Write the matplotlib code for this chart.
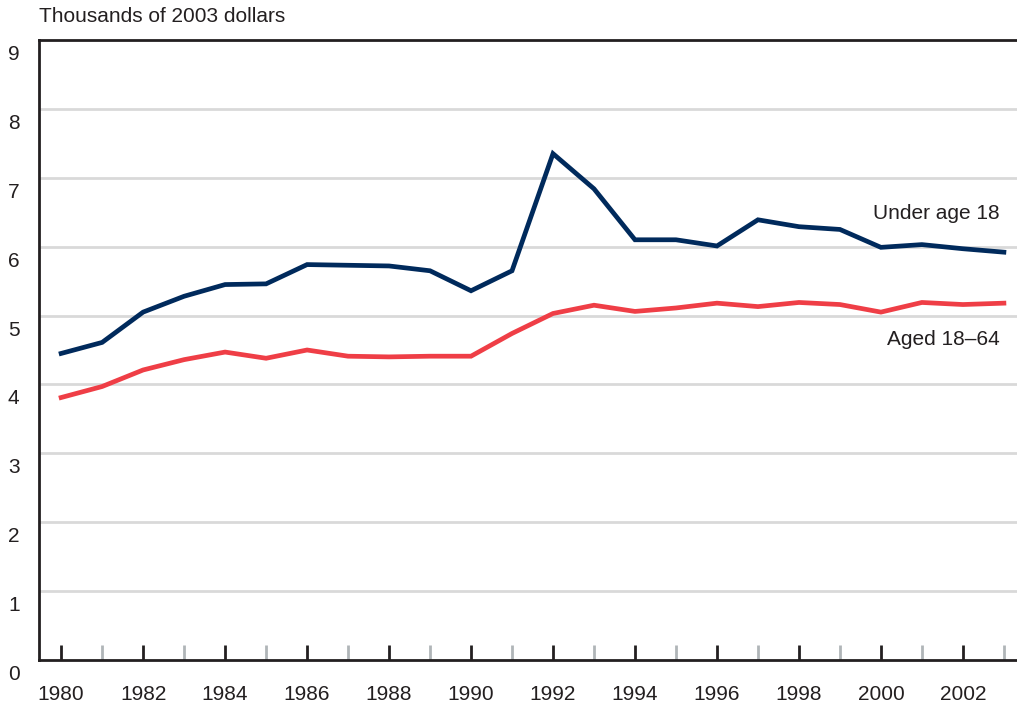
import numpy as np
import matplotlib
matplotlib.use('Agg')
import matplotlib.pyplot as plt
from matplotlib.transforms import ScaledTranslation

plt.rcParams['font.family'] = ['Liberation Sans', 'DejaVu Sans']

# Data (thousands of 2003 dollars)
years = list(range(1980, 2004))
under_18 = [4.45, 4.61, 5.05, 5.28, 5.45, 5.46, 5.74, 5.73, 5.72, 5.65, 5.36, 5.65,
            7.35, 6.84, 6.10, 6.10, 6.01, 6.39, 6.29, 6.25, 5.99, 6.03, 5.97, 5.92]
aged_18_64 = [3.81, 3.97, 4.21, 4.36, 4.47, 4.38, 4.50, 4.41, 4.40, 4.41, 4.41, 4.74,
              5.03, 5.15, 5.06, 5.11, 5.18, 5.13, 5.19, 5.16, 5.05, 5.19, 5.16, 5.18]
y_ticks = list(range(0, 10))
major_years = list(range(1980, 2003, 2))
minor_years = list(range(1981, 2004, 2))

NAVY = '#002a5c'
RED = '#ef3e46'
TXT = '#231f20'
FS = 15

fig = plt.figure(figsize=(10.17, 7.09), dpi=100)
ax = fig.add_axes([39 / 1017, 1 - 660 / 709, 1 - 39 / 1017, 620 / 709])

ax.set_xlim(1979.46, 2003.32)
ax.set_ylim(0, 9)

for v in y_ticks[1:-1]:
    ax.axhline(v, color='#d9d9d9', lw=2, zorder=1)

ax.plot(years, under_18, color=NAVY, lw=3.4, solid_joinstyle='miter', zorder=3)
ax.plot(years, aged_18_64, color=RED, lw=3.4, solid_joinstyle='miter', zorder=3)

ax.text(2002.9, 6.48, 'Under age 18', ha='right', va='center', fontsize=FS, color=TXT)
ax.text(2002.9, 4.65, 'Aged 18\u201364', ha='right', va='center', fontsize=FS, color=TXT)

for s in ['left', 'bottom', 'top']:
    ax.spines[s].set_linewidth(2)
    ax.spines[s].set_color('#231f20')
ax.spines['right'].set_visible(False)

ax.set_yticks(y_ticks)
ax.tick_params(axis='y', length=0, pad=14, labelsize=FS, labelcolor=TXT)
off = ScaledTranslation(0, -9 / 72, fig.dpi_scale_trans)
for lbl in ax.get_yticklabels():
    lbl.set_transform(lbl.get_transform() + off)

ax.set_xticks(major_years)
ax.set_xticks(minor_years, minor=True)
ax.tick_params(axis='x', which='major', direction='in', length=11, width=2,
               color='#231f20', pad=18, labelsize=FS, labelcolor=TXT)
ax.tick_params(axis='x', which='minor', direction='in', length=11, width=2,
               color='#b0b5b8')

fig.text(39 / 1017, 1 - 17 / 709, 'Thousands of 2003 dollars', ha='left', va='center',
         fontsize=FS, color=TXT)

fig.savefig('out.png', dpi=100)
